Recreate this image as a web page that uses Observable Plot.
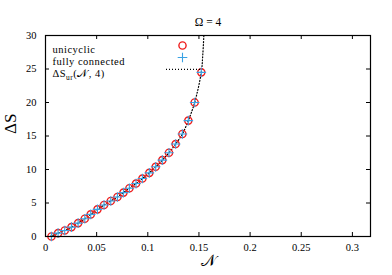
<!DOCTYPE html>
<html><head><meta charset="utf-8">
<script src="https://cdn.jsdelivr.net/npm/d3@7"></script>
<script src="https://cdn.jsdelivr.net/npm/@observablehq/plot@0.6"></script>
<style>
body{margin:0;background:#fff}
svg{display:block}
</style>
</head><body><div id="chart"></div>
<script>
const N = [0.0058, 0.0123, 0.0188, 0.0254, 0.0319, 0.0384, 0.0442, 0.0508, 0.0572, 0.0638, 0.0703, 0.0762, 0.0820, 0.0885, 0.0947, 0.1015, 0.1077, 0.1142, 0.1207, 0.1272, 0.1338, 0.1396, 0.1458, 0.1523];
const unicyclic = [0, 0.5, 0.9, 1.4, 2.0, 2.65, 3.3, 4.05, 4.7, 5.3, 5.9, 6.55, 7.2, 7.9, 8.65, 9.5, 10.4, 11.4, 12.5, 13.8, 15.3, 17.3, 20.0, 24.5];
const fullyConnected = [0, 0.5, 0.9, 1.4, 2.0, 2.65, 3.3, 4.05, 4.7, 5.3, 5.9, 6.55, 7.2, 7.9, 8.65, 9.5, 10.4, 11.4, 12.5, 13.8, 15.3, 17.3, 20.0, 24.5];
const curveN = [0.0045, 0.0123, 0.0188, 0.0254, 0.0319, 0.0384, 0.0442, 0.0508, 0.0572, 0.0638, 0.0703, 0.0762, 0.0820, 0.0885, 0.0947, 0.1015, 0.1077, 0.1142, 0.1207, 0.1272, 0.1338, 0.1396, 0.1458, 0.1523, 0.1537, 0.1548];
const curveS = [0, 0.5, 0.9, 1.4, 2.0, 2.65, 3.3, 4.05, 4.7, 5.3, 5.9, 6.55, 7.2, 7.9, 8.65, 9.5, 10.4, 11.4, 12.5, 13.8, 15.3, 17.3, 20.0, 24.5, 27.0, 30.0];
const xTicks = [0, 0.05, 0.1, 0.15, 0.2, 0.25, 0.3];
const xTickLabels = ["0", "0.05", "0.1", "0.15", "0.2", "0.25", "0.3"];
const yTicks = [0, 5, 10, 15, 20, 25, 30];
const yTickLabels = ["0", "5", "10", "15", "20", "25", "30"];
const titleText = "Ω = 4";
const xLabel = "𝒩";
const yLabel = "ΔS";
const legendLabels = ["unicyclic", "fully connected", "ΔSur(𝒩, 4)"];

const points = N.map((n, i) => ({n, u: unicyclic[i], f: fullyConnected[i]}));
const curve = curveN.map((n, i) => ({n, s: curveS[i]}));

const W = 392, H = 275, mL = 45, mR = 22, mT = 35, mB = 39;
const fw = W - mL - mR, fh = H - mT - mB, tl = 4;
const RED = "#ee1c1c", BLUE = "#3aa2e4";
const FONT = "'Liberation Serif', 'DejaVu Serif', serif";

const plot = Plot.plot({
  width: W, height: H,
  marginLeft: mL, marginRight: mR, marginTop: mT, marginBottom: mB,
  style: {fontSize: "10px", background: "white", color: "black"},
  x: {domain: [0, 0.3177]},
  y: {domain: [0, 30]},
  marks: [
    Plot.line(curve, {x: "n", y: "s", curve: "catmull-rom", stroke: "black", strokeWidth: 1.2, strokeDasharray: "1,2", clip: true}),
    Plot.dot(points, {x: "n", y: "u", r: 3.6, stroke: RED, strokeWidth: 1.4, fill: "none"}),
    Plot.dot(points, {x: "n", y: "f", r: 3.2, symbol: "plus", stroke: BLUE, strokeWidth: 1.1}),
    Plot.tickX(xTicks, {x: d => d, insetTop: fh - tl, stroke: "black"}),
    Plot.tickX(xTicks, {x: d => d, insetBottom: fh - tl, stroke: "black"}),
    Plot.tickY(yTicks, {y: d => d, insetRight: fw - tl, stroke: "black"}),
    Plot.tickY(yTicks, {y: d => d, insetLeft: fw - tl, stroke: "black"}),
    Plot.axisX(xTicks, {tickSize: 0, tickPadding: 7, tickFormat: d => xTickLabels[xTicks.indexOf(d)], fontSize: 10.5, label: null}),
    Plot.axisY(yTicks, {tickSize: 0, tickPadding: 9, tickFormat: d => yTickLabels[yTicks.indexOf(d)], fontSize: 10.5, label: null}),
    Plot.frame({stroke: "black", strokeWidth: 1.2}),
    Plot.text([titleText], {frameAnchor: "top", dy: -18, fontSize: 11.5}),
    Plot.text([yLabel], {frameAnchor: "left", dx: -35, dy: -2, rotate: -90, fontSize: 17}),
    Plot.text([xLabel], {frameAnchor: "bottom", dy: 29, fontSize: 16}),
    Plot.text([legendLabels[0]], {frameAnchor: "top-left", dx: 7, dy: 10, textAnchor: "start", fontSize: 10.5}),
    Plot.text([legendLabels[1]], {frameAnchor: "top-left", dx: 7, dy: 22, textAnchor: "start", fontSize: 10.5}),
    Plot.text([legendLabels[2]], {frameAnchor: "top-left", dx: 7, dy: 34, textAnchor: "start", fontSize: 10.5}),
    Plot.dot([0], {frameAnchor: "top-left", dx: 137, dy: 10, r: 3.6, stroke: RED, strokeWidth: 1.4, fill: "none"}),
    Plot.dot([0], {frameAnchor: "top-left", dx: 137, dy: 22, r: 3.2, symbol: "plus", stroke: BLUE, strokeWidth: 1.1})
  ]
});

// legend line sample
d3.select(plot).append("line")
  .attr("x1", mL + 121).attr("x2", mL + 155)
  .attr("y1", mT + 34.3).attr("y2", mT + 34.3)
  .attr("stroke", "black").attr("stroke-width", 1.2).attr("stroke-dasharray", "1,2");

// serif font on all text
d3.select(plot).style("font-family", FONT);
d3.select(plot).selectAll("g, text").style("font-family", FONT);

// legend text: slightly wider letter spacing
d3.select(plot).selectAll("text").each(function() {
  const c = this.textContent;
  if (c === legendLabels[0] || c === legendLabels[1] || c === legendLabels[2]) {
    d3.select(this).style("letter-spacing", "0.5px");
  }
});

// subscript formatting for the legend formula
d3.select(plot).selectAll("text").each(function() {
  if (this.textContent !== legendLabels[2]) return;
  const t = d3.select(this);
  t.text(null);
  t.append("tspan").text("ΔS");
  t.append("tspan").attr("font-size", "7.5px").attr("dy", "3").text("ur");
  t.append("tspan").attr("dy", "-3").text("(𝒩, 4)");
});

document.getElementById("chart").appendChild(plot);
</script>
</body></html>
